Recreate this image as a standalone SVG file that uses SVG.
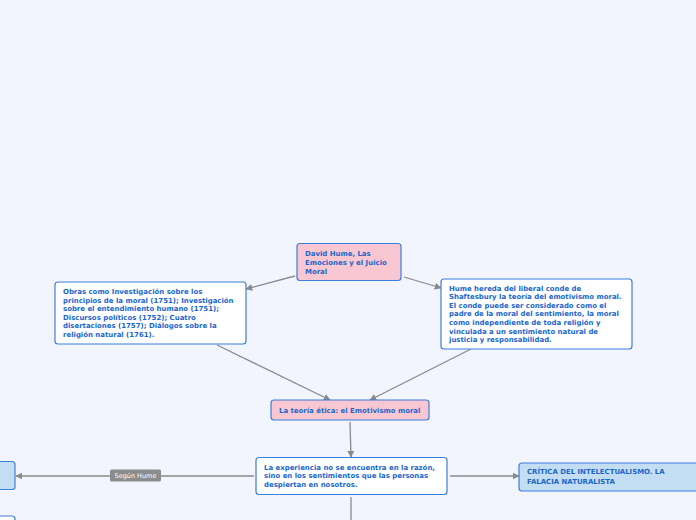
<svg xmlns="http://www.w3.org/2000/svg" width="696" height="520" viewBox="0 0 696 520">
<defs>
<marker id="ah" viewBox="0 0 10 10" refX="9" refY="5" markerWidth="7" markerHeight="7" orient="auto" markerUnits="userSpaceOnUse"><path d="M0,0 L10,5 L0,10 z" fill="#8a8a8a"/></marker>
<style>
.n{stroke:#3a7fdc;stroke-width:1.2}
.w{fill:#ffffff}
.p{fill:#f9c7d1}
.b{fill:#c3ddf2}
.t{font-family:"DejaVu Sans",Verdana,sans-serif;font-weight:bold;font-size:6.95px;fill:#1a66cc}
.c{stroke:#8a8a8a;stroke-width:1.3;fill:none}
</style>
</defs>
<rect width="696" height="520" fill="#f2f5fe"/>
<g id="connectors">
<path class="c" d="M295,276 L246,289" marker-end="url(#ah)"/>
<path class="c" d="M404,277 L441,288" marker-end="url(#ah)"/>
<path class="c" d="M217,345 L330,400" marker-end="url(#ah)"/>
<path class="c" d="M471,349 L370,400" marker-end="url(#ah)"/>
<path class="c" d="M350,422 L351,457" marker-end="url(#ah)"/>
<path class="c" d="M254,476 L16,476" marker-end="url(#ah)"/>
<path class="c" d="M450,476 L519,476" marker-end="url(#ah)"/>
<path class="c" d="M351,497 L351,520"/>
<rect x="110" y="469.5" width="51" height="12" rx="1.5" fill="#8c8c8c"/>
<text x="135.5" y="478" text-anchor="middle" style="font-family:'DejaVu Sans',Verdana,sans-serif;font-size:6.5px;fill:#ffffff">Según Hume</text>
</g>
<g id="root">
<rect class="n p" x="297" y="243.5" width="104" height="37" rx="3"/>
<text class="t"><tspan x="305" y="256">David Hume, Las</tspan><tspan x="305" y="265">Emociones y el Juicio</tspan><tspan x="305" y="274">Moral</tspan></text>
</g>
<g id="obras">
<rect class="n w" x="55" y="282" width="191" height="62" rx="3"/>
<text class="t"><tspan x="63" y="294">Obras como Investigación sobre los</tspan><tspan x="63" y="302.6">principios de la moral (1751); Investigación</tspan><tspan x="63" y="311.2">sobre el entendimiento humano (1751);</tspan><tspan x="63" y="319.8">Discursos políticos (1752); Cuatro</tspan><tspan x="63" y="328.4">disertaciones (1757); Diálogos sobre la</tspan><tspan x="63" y="337">religión natural (1761).</tspan></text>
</g>
<g id="shaftesbury">
<rect class="n w" x="441" y="279" width="191" height="70" rx="3"/>
<text class="t"><tspan x="449" y="290.5">Hume hereda del liberal conde de</tspan><tspan x="449" y="299.1">Shaftesbury la teoría del emotivismo moral.</tspan><tspan x="449" y="307.7">El conde puede ser considerado como el</tspan><tspan x="449" y="316.3">padre de la moral del sentimiento, la moral</tspan><tspan x="449" y="324.9">como independiente de toda religión y</tspan><tspan x="449" y="333.5">vinculada a un sentimiento natural de</tspan><tspan x="449" y="342.1">justicia y responsabilidad.</tspan></text>
</g>
<g id="teoria">
<rect class="n p" x="271" y="400" width="158" height="20" rx="3"/>
<text class="t" x="279" y="413">La teoría ética: el Emotivismo moral</text>
</g>
<g id="experiencia">
<rect class="n w" x="256" y="457.5" width="191" height="37" rx="3"/>
<text class="t"><tspan x="264" y="469.5">La experiencia no se encuentra en la razón,</tspan><tspan x="264" y="478.1">sino en los sentimientos que las personas</tspan><tspan x="264" y="486.7">despiertan en nosotros.</tspan></text>
</g>
<g id="critica">
<rect class="n b" x="519" y="463" width="185" height="28" rx="3"/>
<text class="t"><tspan x="527" y="474">CRÍTICA DEL INTELECTUALISMO. LA</tspan><tspan x="527" y="483.5">FALACIA NATURALISTA</tspan></text>
</g>
<g id="left-node">
<rect class="n b" x="-10" y="461.5" width="25" height="28" rx="3"/>
</g>
<g id="bottom-left-node">
<rect class="n w" x="-10" y="516" width="25" height="20" rx="3"/>
</g>
</svg>
